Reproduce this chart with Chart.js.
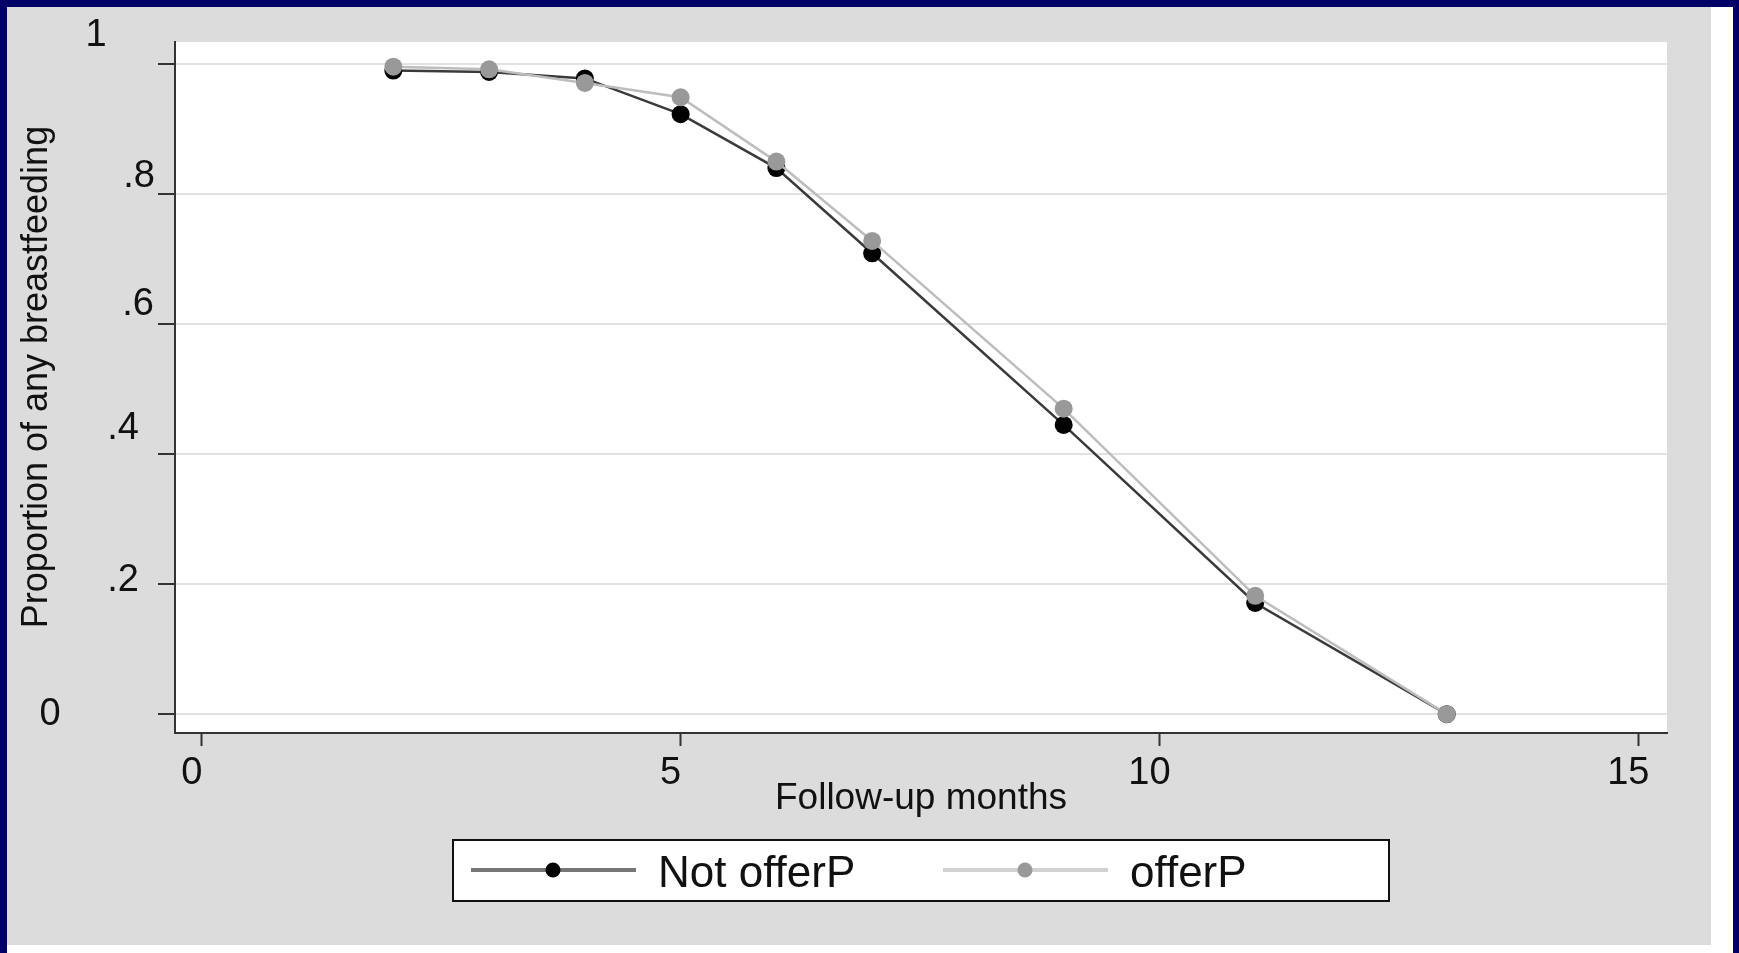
<!DOCTYPE html>
<html>
<head>
<meta charset="utf-8">
<script src="https://cdn.jsdelivr.net/npm/chart.js@4.4.0/dist/chart.umd.min.js"></script>
<style>
  html, body { margin: 0; padding: 0; }
  body { width: 1739px; height: 953px; background: #000066; position: relative; overflow: hidden; }
  #frame { position: absolute; left: 7px; top: 7px; width: 1726px; height: 946px; background: #ffffff; }
  #wrap { position: absolute; left: 7px; top: 7px; width: 1704px; height: 938px; background: #dcdcdc; }
</style>
</head>
<body>
<div id="frame"></div>
<div id="wrap"><canvas id="chart"></canvas></div>
<script>
// data
const months = [2, 3, 4, 5, 6, 7, 9, 11, 13];
const notOfferP = [0.990, 0.988, 0.978, 0.923, 0.840, 0.709, 0.445, 0.171, 0.000];
const offerP = [0.996, 0.992, 0.971, 0.949, 0.850, 0.728, 0.470, 0.182, 0.000];
const seriesNames = ['Not offerP', 'offerP'];
const xTicks = [0, 5, 10, 15];
const yTicks = [0, 0.2, 0.4, 0.6, 0.8, 1];
const yTickLabels = ['0', '.2', '.4', '.6', '.8', '1'];

const FONT = '"Liberation Sans", Arial, sans-serif';
const INK = '#111';

// the y labels in the original sit at odd spots, nudge each one
const yLabelX = [43, 116, 116, 131, 132, 89];
const yLabelDy = [0, -4, -26, -20, -18, -29];

const plotBackground = {
    id: 'plotBackground',
    beforeDraw(chart) {
        const { ctx, chartArea: a } = chart;
        ctx.save();
        ctx.fillStyle = '#ffffff';
        ctx.fillRect(a.left, a.top, a.right - a.left, a.bottom - a.top);
        ctx.restore();
    }
};

const yLabels = {
    id: 'yLabels',
    afterDraw(chart) {
        const scale = chart.scales.y;
        const ctx = chart.ctx;
        ctx.save();
        ctx.font = '38px ' + FONT;
        ctx.fillStyle = INK;
        ctx.textAlign = 'center';
        ctx.textBaseline = 'middle';
        yTicks.forEach((v, i) => {
            ctx.fillText(yTickLabels[i], yLabelX[i], scale.getPixelForValue(v) + yLabelDy[i]);
        });
        // y title, a bit above the plot's middle as in the original
        ctx.save();
        ctx.translate(30, 370);
        ctx.rotate(-Math.PI / 2);
        ctx.font = '36px ' + FONT;
        ctx.fillText('Proportion of any breastfeeding', 0, 0);
        ctx.restore();
        ctx.restore();
    }
};

const boxLegend = {
    id: 'boxLegend',
    afterDraw(chart) {
        const ctx = chart.ctx;
        const items = [
            { x: 464, line: '#777777' },
            { x: 936, line: '#d2d2d2' }
        ];
        ctx.save();
        ctx.fillStyle = '#ffffff';
        ctx.fillRect(446, 833, 936, 61);
        ctx.strokeStyle = INK;
        ctx.lineWidth = 2;
        ctx.strokeRect(446, 833, 936, 61);
        chart.data.datasets.forEach((ds, i) => {
            const it = items[i];
            const cy = 863;
            ctx.strokeStyle = it.line;
            ctx.lineWidth = 4;
            ctx.beginPath();
            ctx.moveTo(it.x, cy);
            ctx.lineTo(it.x + 165, cy);
            ctx.stroke();
            ctx.fillStyle = ds.pointBackgroundColor;
            ctx.beginPath();
            ctx.arc(it.x + 82, cy, 7.5, 0, Math.PI * 2);
            ctx.fill();
            ctx.fillStyle = INK;
            ctx.font = '44px ' + FONT;
            ctx.textAlign = 'left';
            ctx.textBaseline = 'middle';
            ctx.fillText(ds.label, it.x + 187, 868);
        });
        ctx.restore();
    }
};

new Chart(document.getElementById('chart'), {
    type: 'line',
    data: {
        datasets: [
            {
                label: seriesNames[0],
                data: months.map((m, i) => ({ x: m, y: notOfferP[i] })),
                borderColor: '#3a3a3a',
                borderWidth: 2.5,
                pointRadius: 9,
                pointBackgroundColor: '#000000',
                pointBorderWidth: 0,
                order: 1
            },
            {
                label: seriesNames[1],
                data: months.map((m, i) => ({ x: m, y: offerP[i] })),
                borderColor: '#bdbdbd',
                borderWidth: 2.5,
                pointRadius: 9,
                pointBackgroundColor: '#999999',
                pointBorderWidth: 0,
                order: 0
            }
        ]
    },
    options: {
        responsive: true,
        maintainAspectRatio: false,
        animation: false,
        layout: { padding: { top: 35, right: 44, left: 0, bottom: 0 } },
        plugins: {
            legend: { display: false },
            tooltip: { enabled: false }
        },
        scales: {
            x: {
                type: 'linear',
                min: -0.28,
                max: 15.3,
                afterBuildTicks: s => { s.ticks = xTicks.map(v => ({ value: v })); },
                afterFit: s => { s.height = 212; },
                border: { display: true, color: '#333333', width: 2 },
                grid: {
                    drawOnChartArea: false,
                    drawTicks: true,
                    tickLength: 13,
                    tickColor: '#333333',
                    tickWidth: 2
                },
                ticks: {
                    font: { family: FONT, size: 38 },
                    color: INK,
                    padding: 5,
                    labelOffset: -10,
                    maxRotation: 0
                },
                title: {
                    display: true,
                    text: 'Follow-up months',
                    font: { family: FONT, size: 37 },
                    color: INK,
                    padding: { top: 0, bottom: 124 }
                }
            },
            y: {
                type: 'linear',
                min: -0.029,
                max: 1.034,
                afterBuildTicks: s => { s.ticks = yTicks.map(v => ({ value: v })); },
                afterFit: s => { s.width = 168; },
                border: { display: true, color: '#333333', width: 2 },
                grid: {
                    color: '#e2e2e2',
                    lineWidth: 2,
                    drawTicks: true,
                    tickLength: 17,
                    tickColor: '#333333',
                    tickWidth: 2
                },
                ticks: { display: false }
            }
        }
    },
    plugins: [plotBackground, yLabels, boxLegend]
});
</script>
</body>
</html>
